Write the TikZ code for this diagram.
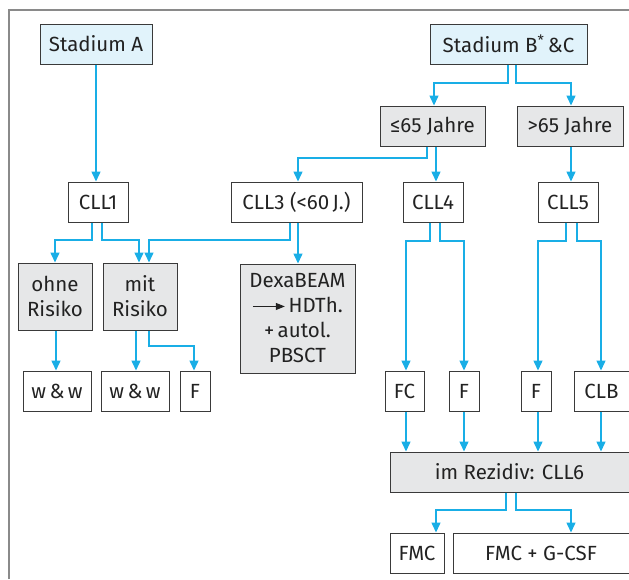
\documentclass[tikz,border=0pt]{standalone}
\usepackage{fontspec}
\setmainfont{Fira Sans}
\usetikzlibrary{arrows.meta}
\definecolor{arrc}{HTML}{19AEE6}
\definecolor{bluef}{HTML}{E1F3FB}
\definecolor{grayf}{HTML}{E6E7E8}
\definecolor{boxd}{HTML}{3A3A3A}
\definecolor{framec}{HTML}{8A8A8A}
\definecolor{txt}{HTML}{222222}
\tikzset{
  bx/.style={draw=boxd, line width=1pt, inner sep=0pt, align=center,
    text=txt, font=\fontsize{20.5}{25}\selectfont},
  blue box/.style={bx, fill=bluef},
  gray box/.style={bx, fill=grayf},
  arr/.style={draw=arrc, line width=1.5pt, -{Triangle[width=9pt,length=10pt]}},
}
\newcommand{\bxat}[7]{% style, name, x1, y1, x2, y2, text
  \node[#1, minimum width={#5-#3}, minimum height={#6-#4}] (#2) at ({(#3+#5)/2},{(#4+#6)/2}) {#7};}
\begin{document}
\begin{tikzpicture}[x=1pt,y=-1pt]
\useasboundingbox (0,0) rectangle (629,579);
\draw[framec, line width=1.3pt] (9,579) -- (9,10) -- (629,10);

\bxat{blue box}{SA}{40}{24}{152}{64}{Stadium A}
\bxat{blue box}{SB}{430}{24}{587}{64}{Stadium B\textsuperscript{*}\,\&C}
\bxat{gray box}{LE}{380}{106}{485}{146}{≤65 Jahre}
\bxat{gray box}{GT}{517}{106}{623}{146}{>65 Jahre}
\bxat{bx}{C1}{68}{182}{128}{222}{CLL1}
\bxat{bx}{C3}{231}{182}{362}{222}{CLL3 (<60\,J.)}
\bxat{bx}{C4}{403}{182}{463}{222}{CLL4}
\bxat{bx}{C5}{538}{182}{598}{222}{CLL5}
\bxat{gray box}{OR}{18}{263}{92}{330}{ohne\\Risiko}
\bxat{gray box}{MR}{103}{263}{177}{330}{mit\\Risiko}
\bxat{gray box}{DX}{240}{264}{355}{373}{DexaBEAM\\\tikz[baseline=-0.6ex]\draw[line width=1pt,-{Triangle[width=7pt,length=9pt]}] (0,0) -- (32pt,0);\,HDTh.\\+\,autol.\\PBSCT}
\bxat{bx}{W1}{23}{371}{91}{411}{w\,\&\,w}
\bxat{bx}{W2}{101}{371}{169}{411}{w\,\&\,w}
\bxat{bx}{F1}{180}{371}{210}{411}{F}
\bxat{bx}{FC}{385}{371}{424}{411}{FC}
\bxat{bx}{F2}{449}{371}{479}{411}{F}
\bxat{bx}{F3}{521}{371}{551}{411}{F}
\bxat{bx}{CB}{574}{371}{629}{411}{CLB}
\bxat{gray box}{RZ}{390}{452}{629}{492}{im Rezidiv: CLL6}
\bxat{bx}{FM}{390}{533}{444}{573}{FMC}
\bxat{bx}{FG}{453}{533}{629}{573}{FMC + G-CSF}

\draw[arr] (SA.south -| 96,0) -- (C1.north -| 96,0);
\draw[arr] (SB.south -| 508,0) |- (434,83) -- (LE.north -| 434,0);
\draw[arr] (SB.south -| 516,0) |- (571,83) -- (GT.north -| 571,0);
\draw[arr] (LE.south -| 427,0) |- (298,158) -- (C3.north -| 298,0);
\draw[arr] (LE.south -| 436,0) -- (C4.north -| 436,0);
\draw[arr] (GT.south -| 571,0) -- (C5.north -| 571,0);
\draw[arr] (C1.south -| 92,0) |- (55,240) -- (OR.north -| 55,0);
\draw[arr] (C1.south -| 102,0) |- (139,240) -- (MR.north -| 139,0);
\draw[arr] (C3.south -| 290,0) |- (149,240) -- (MR.north -| 149,0);
\draw[arr] (C3.south -| 298,0) -- (DX.north -| 298,0);
\draw[arr] (OR.south -| 56,0) -- (W1.north -| 56,0);
\draw[arr] (MR.south -| 136,0) -- (W2.north -| 136,0);
\draw[arr] (MR.south -| 149,0) |- (194,346) -- (F1.north -| 194,0);
\draw[arr] (C4.south -| 430,0) |- (406,241) -- (FC.north -| 406,0);
\draw[arr] (C4.south -| 440,0) |- (464,241) -- (F2.north -| 464,0);
\draw[arr] (C5.south -| 566,0) |- (538,241) -- (F3.north -| 538,0);
\draw[arr] (C5.south -| 577,0) |- (601,241) -- (CB.north -| 601,0);
\draw[arr] (FC.south -| 406,0) -- (RZ.north -| 406,0);
\draw[arr] (F2.south -| 464,0) -- (RZ.north -| 464,0);
\draw[arr] (F3.south -| 538,0) -- (RZ.north -| 538,0);
\draw[arr] (CB.south -| 601,0) -- (RZ.north -| 601,0);
\draw[arr] (RZ.south -| 506,0) |- (436,510) -- (FM.north -| 436,0);
\draw[arr] (RZ.south -| 516,0) |- (571,510) -- (FG.north -| 571,0);
\end{tikzpicture}
\end{document}
